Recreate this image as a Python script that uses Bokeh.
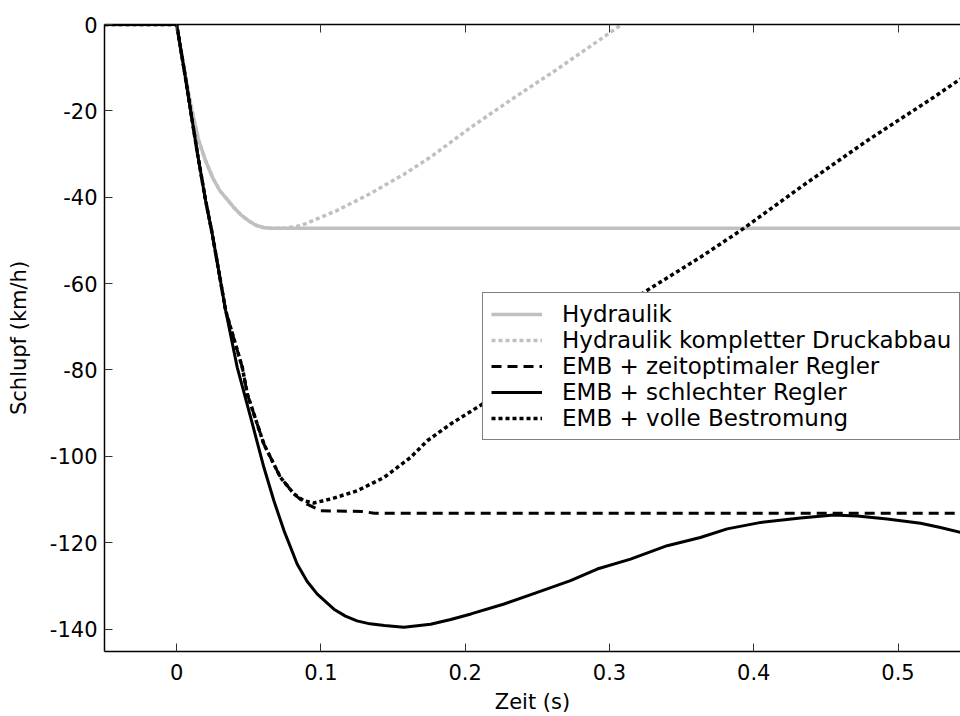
from bokeh.plotting import figure
from bokeh.models import Range1d, LinearAxis, FixedTicker, Legend, LegendItem
from bokeh.embed import file_html
from bokeh.resources import INLINE

# ---------------- data ----------------
hyd_x = [-0.05, 0.0, 0.005, 0.01, 0.015, 0.02, 0.025, 0.03, 0.035, 0.04, 0.045, 0.05, 0.055, 0.06, 0.065, 0.55]
hyd_y = [0.0, 0.0, -10.0, -19.0, -26.5, -31.5, -35.5, -38.5, -40.5, -42.5, -44.2, -45.5, -46.5, -47.0, -47.2, -47.2]

hydk_x = [-0.05, 0.0, 0.005, 0.01, 0.015, 0.02, 0.025, 0.03, 0.035, 0.04, 0.045, 0.05, 0.055, 0.06, 0.065,
          0.075, 0.086, 0.111, 0.134, 0.158, 0.176, 0.204, 0.231, 0.264, 0.3085]
hydk_y = [0.0, 0.0, -10.0, -19.0, -26.5, -31.5, -35.5, -38.5, -40.5, -42.5, -44.2, -45.5, -46.5, -47.0, -47.2,
          -47.2, -46.6, -43.1, -39.2, -34.6, -30.7, -23.8, -17.6, -10.3, 0.0]

schl_x = [-0.05, 0.0, 0.005, 0.0097, 0.0145, 0.0201, 0.0247, 0.034, 0.042, 0.0513, 0.0605, 0.0674, 0.0744,
          0.0836, 0.0905, 0.0975, 0.109, 0.117, 0.125, 0.134, 0.144, 0.1575, 0.176, 0.19, 0.204, 0.227, 0.25,
          0.273, 0.2915, 0.3146, 0.34, 0.363, 0.3816, 0.405, 0.4324, 0.4555, 0.4717, 0.4925, 0.5156, 0.5294, 0.5433]
schl_y = [0.0, 0.0, -10.0, -20.0, -30.0, -40.8, -48.5, -66.3, -79.4, -91.0, -102.6, -110.3, -117.2,
          -125.0, -129.0, -131.9, -135.4, -137.0, -138.1, -138.8, -139.2, -139.6, -138.9, -137.8, -136.5, -134.2,
          -131.5, -128.8, -126.1, -123.8, -120.7, -118.8, -116.8, -115.3, -114.3, -113.6, -113.8, -114.5, -115.5,
          -116.5, -117.6]

zeit_x = [-0.05, 0.0, 0.005, 0.0097, 0.0145, 0.0201, 0.0247, 0.034, 0.0455, 0.049, 0.0605, 0.072, 0.0813,
          0.0882, 0.0998, 0.13, 0.137, 0.55]
zeit_y = [0.0, 0.0, -10.0, -20.0, -30.0, -40.8, -48.5, -66.3, -79.4, -85.6, -97.2, -104.9, -108.7,
          -110.7, -112.6, -112.8, -113.2, -113.2]

voll_x = [-0.05, 0.0, 0.005, 0.0097, 0.0145, 0.0201, 0.0247, 0.034, 0.0455, 0.049, 0.0605, 0.072, 0.0813,
          0.0882, 0.095, 0.1067, 0.125, 0.1437, 0.162, 0.1737, 0.19, 0.212, 0.25, 0.29, 0.324, 0.363, 0.391,
          0.4324, 0.4786, 0.525, 0.5433]
voll_y = [0.0, 0.0, -10.0, -20.0, -30.0, -40.8, -48.5, -66.3, -79.4, -85.6, -97.2, -104.9, -108.7,
          -110.3, -110.8, -109.9, -108.0, -104.9, -100.3, -96.4, -92.5, -87.9, -80.0, -71.0, -62.0, -53.9, -47.7,
          -37.7, -26.9, -16.8, -12.6]

labels = ["Hydraulik", "Hydraulik kompletter Druckabbau", "EMB + zeitoptimaler Regler",
          "EMB + schlechter Regler", "EMB + volle Bestromung"]

x_ticks = [0, 0.1, 0.2, 0.3, 0.4, 0.5]
x_tick_labels = ["0", "0.1", "0.2", "0.3", "0.4", "0.5"]
y_ticks = [0, -20, -40, -60, -80, -100, -120, -140]
y_tick_labels = ["0", "-20", "-40", "-60", "-80", "-100", "-120", "-140"]

FONT = "DejaVu Sans"
GRAY = "#c0c0c0"

p = figure(width=960, height=716, output_backend="svg", toolbar_location=None,
           x_range=Range1d(-0.05, 0.5433), y_range=Range1d(-145.2, 0.0),
           min_border_left=104, min_border_top=24, min_border_right=0, min_border_bottom=65)
p.outline_line_color = None
p.xgrid.visible = False
p.ygrid.visible = False
p.background_fill_color = "white"
p.border_fill_color = "white"

r1 = p.line(hyd_x, hyd_y, line_color=GRAY, line_width=3.5)
r2 = p.line(hydk_x, hydk_y, line_color=GRAY, line_width=3.5, line_dash="4 3")
r3 = p.line(zeit_x, zeit_y, line_color="black", line_width=3, line_dash="10 6")
r4 = p.line(schl_x, schl_y, line_color="black", line_width=3)
r5 = p.line(voll_x, voll_y, line_color="black", line_width=3.5, line_dash="4 3")

def style_axis(ax):
    ax.axis_line_color = "black"
    ax.axis_line_width = 1.5
    ax.major_tick_in = 8
    ax.major_tick_out = 0
    ax.minor_tick_line_color = None
    ax.major_tick_line_color = "#333333"
    ax.major_label_text_font = FONT
    ax.major_label_text_font_size = "21px"
    ax.major_label_text_color = "black"
    ax.axis_label_text_font = FONT
    ax.axis_label_text_font_size = "21px"
    ax.axis_label_text_font_style = "normal"
    ax.axis_label_text_color = "black"

xa = p.xaxis[0]
xa.ticker = FixedTicker(ticks=x_ticks)
xa.major_label_overrides = dict(zip(x_ticks, x_tick_labels))
xa.axis_label = "Zeit (s)"
style_axis(xa)
xa.major_label_standoff = 12
xa.axis_label_standoff = 7

ya = p.yaxis[0]
ya.ticker = FixedTicker(ticks=y_ticks)
ya.major_label_overrides = dict(zip(y_ticks, y_tick_labels))
ya.axis_label = "Schlupf (km/h)"
style_axis(ya)
ya.major_label_standoff = 7
ya.axis_label_standoff = 16

top = LinearAxis(ticker=FixedTicker(ticks=x_ticks))
style_axis(top)
top.major_label_overrides = {t: "" for t in x_ticks}
top.major_label_standoff = 0
p.add_layout(top, "above")

legend = Legend(items=[LegendItem(label=labels[0], renderers=[r1]),
                       LegendItem(label=labels[1], renderers=[r2]),
                       LegendItem(label=labels[2], renderers=[r3]),
                       LegendItem(label=labels[3], renderers=[r4]),
                       LegendItem(label=labels[4], renderers=[r5])],
                location=(378, 211))
legend.label_text_font = FONT
legend.label_text_font_size = "23px"
legend.label_text_color = "black"
legend.glyph_width = 51
legend.label_standoff = 20
legend.padding = 8
legend.spacing = 0
legend.margin = 0
legend.border_line_color = "black"
legend.border_line_width = 1.5
legend.background_fill_color = "white"
legend.background_fill_alpha = 1.0
p.add_layout(legend, "center")

open("out.html", "w").write(file_html(p, INLINE))
